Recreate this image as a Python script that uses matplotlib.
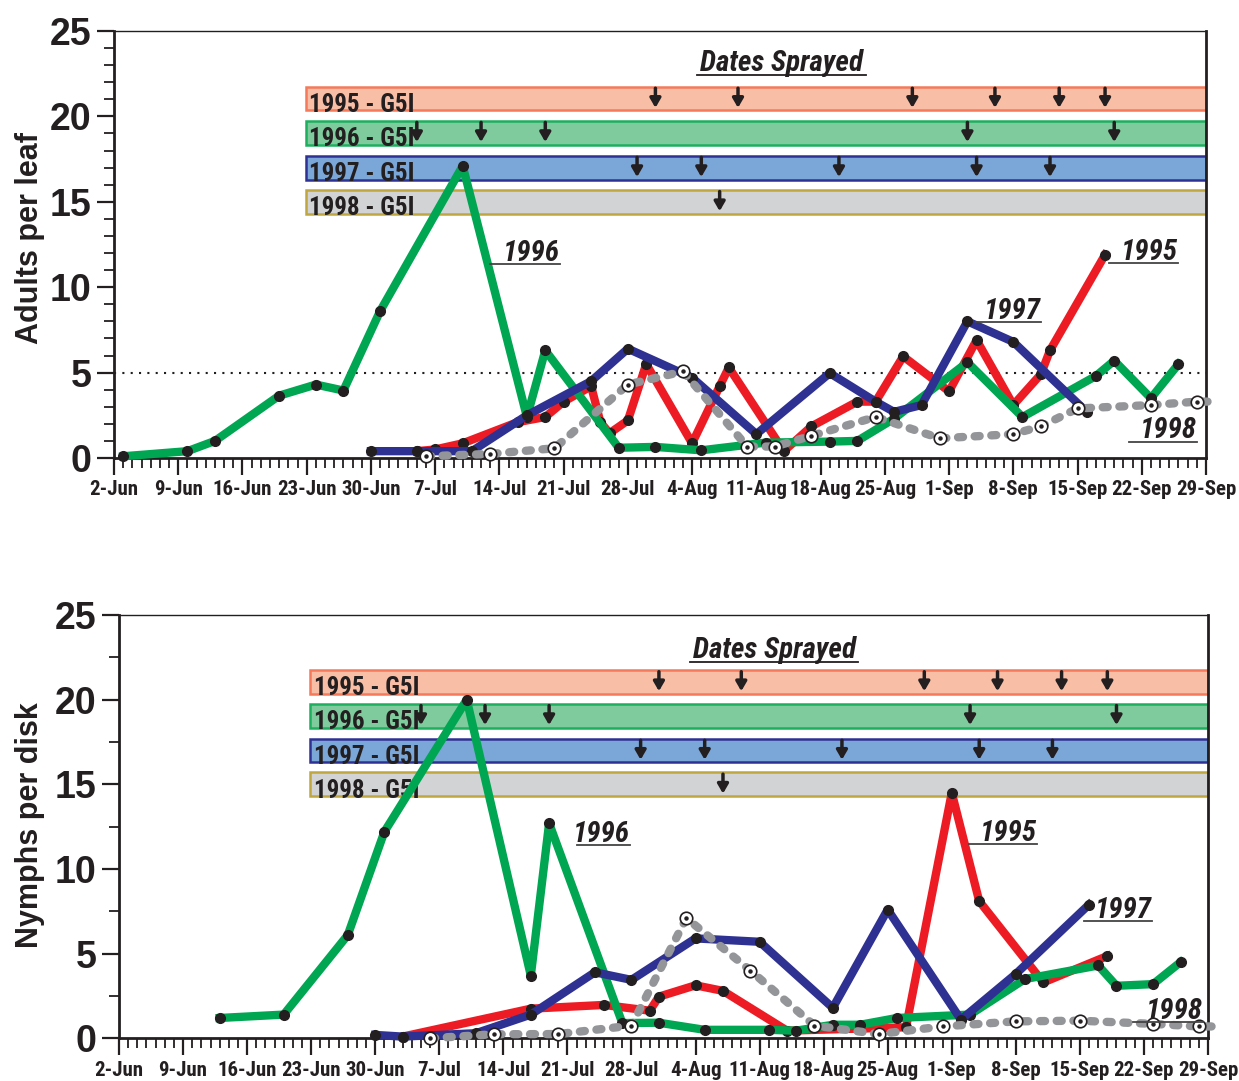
import os
import matplotlib
matplotlib.use("Agg")
import matplotlib.pyplot as plt
from matplotlib import font_manager
from matplotlib.font_manager import FontProperties
from matplotlib.patches import Rectangle

# day numbers are days after 2-Jun
date_labels = ["2-Jun", "9-Jun", "16-Jun", "23-Jun", "30-Jun", "7-Jul", "14-Jul",
               "21-Jul", "28-Jul", "4-Aug", "11-Aug", "18-Aug", "25-Aug", "1-Sep",
               "8-Sep", "15-Sep", "22-Sep", "29-Sep"]

# adults per leaf
adults_1995_days = [33, 35, 38, 44, 47, 49, 52, 53, 54, 56, 58, 63, 66, 67, 73, 76, 81, 83, 86, 91, 94, 98, 101, 102, 108]
adults_1995 = [0.4, 0.5, 0.86, 2.1, 2.4, 3.3, 4.2, 2.1, 1.45, 2.2, 5.5, 0.86, 4.2, 5.3, 0.4, 1.85, 3.3, 3.3, 5.95, 3.9, 6.9, 3.1, 4.9, 6.3, 11.9]
adults_1996_days = [1, 8, 11, 18, 22, 25, 29, 38, 45, 47, 55, 59, 64, 71, 78, 81, 85, 93, 99, 107, 109, 113, 116]
adults_1996 = [0.1, 0.4, 1.0, 3.65, 4.3, 3.95, 8.6, 17.1, 2.4, 6.3, 0.6, 0.65, 0.45, 0.9, 0.96, 1.0, 2.3, 5.6, 2.4, 4.8, 5.7, 3.5, 5.5]
adults_1997_days = [28, 33, 39, 45, 52, 56, 63, 70, 78, 83, 85, 88, 93, 98, 106]
adults_1997 = [0.4, 0.4, 0.4, 2.5, 4.5, 6.4, 4.7, 1.4, 4.97, 3.3, 2.7, 3.1, 8.0, 6.8, 2.7]
adults_1998_days = [34, 41, 48, 56, 62, 69, 72, 76, 83, 90, 98, 101, 105, 113, 118]
adults_1998 = [0.1, 0.24, 0.57, 4.3, 5.07, 0.67, 0.67, 1.3, 2.4, 1.15, 1.4, 1.85, 2.9, 3.1, 3.3]

# nymphs per disk
nymphs_1995_days = [31, 45, 53, 58, 59, 63, 66, 73, 86, 91, 94, 101, 108]
nymphs_1995 = [0.1, 1.75, 1.97, 1.63, 2.46, 3.13, 2.8, 0.45, 0.65, 14.5, 8.1, 3.3, 4.86]
nymphs_1996_days = [11, 18, 25, 29, 38, 45, 47, 55, 59, 64, 71, 74, 78, 81, 85, 93, 99, 107, 109, 113, 116]
nymphs_1996 = [1.2, 1.4, 6.1, 12.2, 20.0, 3.7, 12.7, 0.9, 0.92, 0.5, 0.5, 0.45, 0.8, 0.8, 1.2, 1.4, 3.5, 4.3, 3.1, 3.2, 4.5]
nymphs_1997_days = [28, 31, 39, 45, 52, 56, 63, 70, 78, 84, 92, 98, 106]
nymphs_1997 = [0.2, 0.1, 0.3, 1.4, 3.9, 3.45, 5.9, 5.7, 1.8, 7.6, 1.1, 3.8, 7.9]
nymphs_1998_days = [34, 41, 48, 56, 62, 69, 76, 83, 90, 98, 105, 113, 118]
nymphs_1998 = [0.0, 0.24, 0.25, 0.75, 7.1, 4.0, 0.75, 0.25, 0.7, 1.0, 1.04, 0.85, 0.7]

# spray dates (days after 2-Jun)
sprays_1995_adults = [59, 68, 87, 96, 103, 108]
sprays_1995_nymphs = [59, 68, 88, 96, 103, 108]
sprays_1996 = [33, 40, 47, 93, 109]
sprays_1997 = [57, 64, 79, 94, 102]
sprays_1998 = [66]

band_labels = ["1995 - G5I", "1996 - G5I", "1997 - G5I", "1998 - G5I"]

RED, GREEN, BLUE, GRAY = "#ED1C24", "#00A651", "#2E3192", "#939598"
INK = "#231F20"
band_fill = ["#F9BEA6", "#80CB9D", "#7BA6D8", "#D1D3D4"]
band_edge = ["#F47A5B", "#1DAF5E", "#2E3192", "#BFA640"]
band_bottom = [20.35, 18.35, 16.3, 14.3]

plt.rcParams["font.family"] = ["Liberation Sans", "DejaVu Sans"]

# condensed bold face, like the narrow Helvetica of the original
font_files = {os.path.basename(f.fname): f.fname for f in font_manager.fontManager.ttflist}


def pick(names):
    for n in names:
        if n in font_files:
            return font_files[n]
    return None


narrow_bold = pick(["LiberationSansNarrow-Bold.ttf", "RobotoCondensed-Bold.ttf",
                    "FiraSansCondensed-Bold.ttf", "DejaVuSansCondensed-Bold.ttf"])
narrow_italic = pick(["LiberationSansNarrow-BoldItalic.ttf", "RobotoCondensed-BoldItalic.ttf",
                      "FiraSansCondensed-BoldItalic.ttf", "DejaVuSansCondensed-BoldOblique.ttf"])


def nfont(size, italic=False):
    path = narrow_italic if italic else narrow_bold
    if path:
        return FontProperties(fname=path, size=size)
    return FontProperties(family="DejaVu Sans", weight="bold", size=size * 0.8,
                          style="italic" if italic else "normal")


def labelled(ax, text, x0, x1, y):
    # italic year label with an underline
    ax.plot([x0, x1], [y, y], color="#444444", lw=1.3, zorder=8)
    ax.text(x1, y + 0.2, text, ha="right", va="baseline", fontproperties=nfont(21, True),
            color=INK, zorder=8)


def panel(ax, series, sprays, minor_step):
    ax.set_xlim(0, 119)
    ax.set_ylim(0, 25)

    # spray bands
    for i, lab in enumerate(band_labels):
        b = band_bottom[i]
        ax.add_patch(Rectangle((20.9, b), 119 - 20.9, 1.4, facecolor=band_fill[i],
                               edgecolor=band_edge[i], lw=1.8, zorder=1))
        ax.text(21.3, b - 0.1, lab, fontproperties=nfont(18), color=INK,
                va="baseline", zorder=2)
        for d in sprays[i]:
            ax.annotate("", xy=(d, b + 0.15), xytext=(d, b + 1.3),
                        arrowprops=dict(arrowstyle="-|>,head_length=0.55,head_width=0.32",
                                        color=INK, lw=2.5, shrinkA=0, shrinkB=0),
                        zorder=3)

    # data lines
    for (d, v, c, z) in series[:3]:
        ax.plot(d, v, color=c, lw=6, solid_joinstyle="round", marker="o", ms=7,
                mfc=INK, mec=INK, zorder=z, clip_on=False)
    d, v = series[3][0], series[3][1]
    ax.plot(d + [119.5], v + [v[-1]], color=GRAY, lw=6, ls=(0, (0.6, 1.4)),
            dash_capstyle="round", zorder=6, clip_on=False)
    ax.plot(d, v, "o", ms=9, mfc="white", mec=INK, mew=1.2, zorder=7, clip_on=False)
    ax.plot(d, v, "o", ms=2.2, color=INK, zorder=7.5, clip_on=False)

    ax.set_xticks(range(0, 120, 7))
    ax.set_xticks(range(0, 120), minor=True)
    ax.set_xticklabels(date_labels, fontproperties=nfont(15), color=INK)
    ax.set_yticks(range(0, 26, 5))
    ax.set_yticks([i * minor_step for i in range(int(25 / minor_step) + 1)], minor=True)
    ax.set_yticklabels([str(t) for t in range(0, 26, 5)], fontsize=27, fontweight="bold", color=INK)
    ax.tick_params(axis="both", which="major", length=12, width=1.6, color=INK, pad=4)
    ax.tick_params(axis="both", which="minor", length=7, width=1.3, color=INK)
    for s in ["left", "bottom", "right"]:
        ax.spines[s].set_linewidth(2)
        ax.spines[s].set_color(INK)
    ax.spines["top"].set_linewidth(1)
    ax.spines["top"].set_color(INK)


fig = plt.figure(figsize=(12.39, 10.81), dpi=100)

ax1 = fig.add_axes([114 / 1239, 1 - 458 / 1081, 1092 / 1239, 427 / 1081])
panel(ax1,
      [(adults_1995_days, adults_1995, RED, 3),
       (adults_1996_days, adults_1996, GREEN, 4),
       (adults_1997_days, adults_1997, BLUE, 5),
       (adults_1998_days, adults_1998)],
      [sprays_1995_adults, sprays_1996, sprays_1997, sprays_1998], 1)
ax1.axhline(5, color=INK, lw=1.5, ls=(0, (1, 3)), zorder=2)
ax1.plot([63.5, 81.9], [22.4, 22.4], color=INK, lw=1.3)
ax1.text(72.7, 22.65, "Dates Sprayed", ha="center", va="baseline",
         fontproperties=nfont(21, True), color=INK)
labelled(ax1, "1996", 41.0, 48.6, 11.33)
labelled(ax1, "1995", 108.4, 115.9, 11.4)
labelled(ax1, "1997", 93.9, 101.0, 7.95)
labelled(ax1, "1998", 110.6, 118.0, 0.96)

ax2 = fig.add_axes([119 / 1239, 1 - 1038.3 / 1081, 1089 / 1239, 423.3 / 1081])
panel(ax2,
      [(nymphs_1995_days, nymphs_1995, RED, 3),
       (nymphs_1996_days, nymphs_1996, GREEN, 4),
       (nymphs_1997_days, nymphs_1997, BLUE, 5),
       (nymphs_1998_days, nymphs_1998)],
      [sprays_1995_nymphs, sprays_1996, sprays_1997, sprays_1998], 2.5)
ax2.plot([62.4, 80.8], [22.2, 22.2], color=INK, lw=1.3)
ax2.text(71.6, 22.45, "Dates Sprayed", ha="center", va="baseline",
         fontproperties=nfont(21, True), color=INK)
labelled(ax2, "1996", 50.1, 55.8, 11.4)
labelled(ax2, "1995", 92.9, 100.3, 11.46)
labelled(ax2, "1997", 105.5, 112.9, 6.9)
labelled(ax2, "1998", 110.8, 118.4, 0.96)

fig.text(30 / 1239, 1 - 238 / 1081, "Adults per leaf", rotation=90, ha="center",
         va="center", fontsize=22, fontweight="bold", color=INK)
fig.text(30 / 1239, 1 - 825 / 1081, "Nymphs per disk", rotation=90, ha="center",
         va="center", fontsize=22, fontweight="bold", color=INK)

fig.savefig("out.png", dpi=100)
